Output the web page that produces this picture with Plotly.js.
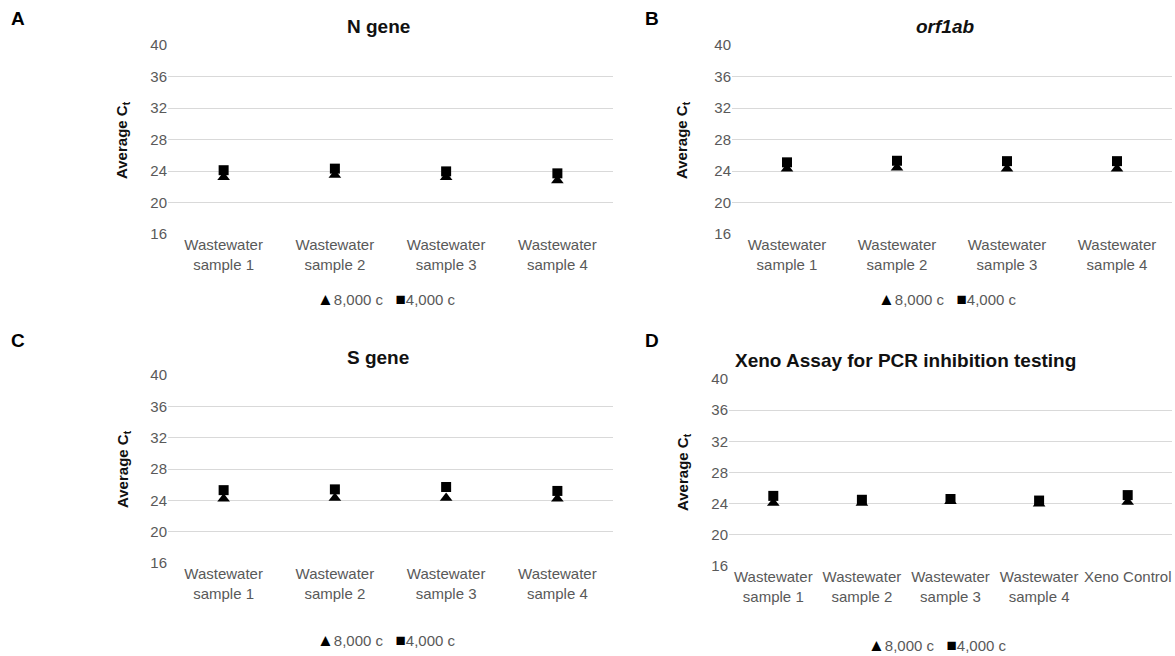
<!DOCTYPE html>
<html>
<head>
<meta charset="utf-8">
<script src="https://cdn.plot.ly/plotly-3.0.1.min.js"></script>
<style>html,body{margin:0;padding:0;background:#fff;}#chart{width:1175px;height:656px;}</style>
</head>
<body>
<div id="chart"></div>
<script>
// Data
const samples4 = ["Wastewater<br>sample 1", "Wastewater<br>sample 2", "Wastewater<br>sample 3", "Wastewater<br>sample 4"];
const samples5 = ["Wastewater<br>sample 1", "Wastewater<br>sample 2", "Wastewater<br>sample 3", "Wastewater<br>sample 4", "Xeno Control"];
const seriesNames = ["8,000 c", "4,000 c"];
const seriesGlyphs = ["▲", "■"];

const nGene8000 = [23.2, 23.5, 23.2, 22.8];
const nGene4000 = [24.1, 24.3, 23.95, 23.7];
const orf8000 = [24.3, 24.4, 24.3, 24.3];
const orf4000 = [25.1, 25.3, 25.25, 25.25];
const sGene8000 = [24.2, 24.3, 24.3, 24.2];
const sGene4000 = [25.3, 25.4, 25.7, 25.2];
const xeno8000 = [24.1, 24.1, 24.3, 24.0, 24.2];
const xeno4000 = [25.0, 24.5, 24.6, 24.4, 25.1];

const panelTitles = ["N gene", "<i>orf1ab</i>", "S gene", "Xeno Assay for PCR inhibition testing"];
const panelLetters = ["A", "B", "C", "D"];
const yTitle = "Average C<sub>t</sub>";
const yTicks = [16, 20, 24, 28, 32, 36, 40];

const W = 1175, H = 656;
const px = v => v / W, py = v => 1 - v / H;
const FONT = "Liberation Sans, Arial, sans-serif";

const panels = [
  {cats: samples4, a: nGene8000, b: nGene4000, x: [168, 613], y: [45, 234]},
  {cats: samples4, a: orf8000, b: orf4000, x: [732, 1172], y: [45, 234]},
  {cats: samples4, a: sGene8000, b: sGene4000, x: [168, 613], y: [375, 563]},
  {cats: samples5, a: xeno8000, b: xeno4000, x: [729, 1172], y: [379, 566]}
];

const traces = [];
const layout = {
  width: W, height: H,
  margin: {l: 0, r: 0, t: 0, b: 0},
  paper_bgcolor: "#fff", plot_bgcolor: "#fff",
  font: {family: FONT, color: "#595959", size: 14},
  showlegend: false,
  annotations: []
};

const fontTick = {family: FONT, size: 15, color: "#595959"};
const legendPos = [[386, 299], [947, 299], [386, 640], [937, 645]];
const titlePos = [[378, 27], [945, 27], [378, 357], [905, 360]];
const letterPos = [[18, 18], [652, 18], [18, 340], [652, 340]];
const ytitlePos = [[123, 140], [683, 140], [123, 469], [683, 472]];

panels.forEach((p, i) => {
  const n = i === 0 ? "" : String(i + 1);
  const xa = "x" + n, ya = "y" + n;
  traces.push({
    type: "scatter", mode: "markers", x: p.cats, y: p.a, name: seriesNames[0],
    xaxis: xa, yaxis: ya,
    marker: {symbol: "triangle-up", size: 11, color: "#000"}
  });
  traces.push({
    type: "scatter", mode: "markers", x: p.cats, y: p.b, name: seriesNames[1],
    xaxis: xa, yaxis: ya,
    marker: {symbol: "square", size: 10, color: "#000"}
  });
  layout["xaxis" + n] = {
    domain: [px(p.x[0]), px(p.x[1])], anchor: ya, type: "category",
    range: [-0.5, p.cats.length - 0.5], showgrid: false, showline: false, zeroline: false,
    tickfont: {family: FONT, size: 15, color: "#595959"},
    ticks: "", fixedrange: true
  };
  layout["yaxis" + n] = {
    domain: [py(p.y[1]), py(p.y[0])], anchor: xa, range: [16, 40],
    tickvals: yTicks, showgrid: true, gridcolor: "#d9d9d9", gridwidth: 1,
    zeroline: false, showline: false, tickfont: fontTick, ticks: "", fixedrange: true
  };
  layout.annotations.push({
    text: '<span style="color:#000;font-size:17px">' + seriesGlyphs[0] + '</span>' + seriesNames[0] +
          '&nbsp;&nbsp;&nbsp;<span style="color:#000;font-size:17px">' + seriesGlyphs[1] + '</span>' + seriesNames[1],
    xref: "paper", yref: "paper",
    x: px(legendPos[i][0]), y: py(legendPos[i][1]), xanchor: "center", yanchor: "middle",
    showarrow: false, font: {family: FONT, size: 15, color: "#595959"}
  });
  layout.annotations.push({
    text: "<b>" + panelTitles[i] + "</b>", xref: "paper", yref: "paper",
    x: px(titlePos[i][0]), y: py(titlePos[i][1]), xanchor: "center", yanchor: "middle",
    showarrow: false, font: {family: FONT, size: 19, color: "#111"}
  });
  layout.annotations.push({
    text: "<b>" + panelLetters[i] + "</b>", xref: "paper", yref: "paper",
    x: px(letterPos[i][0]), y: py(letterPos[i][1]), xanchor: "center", yanchor: "middle",
    showarrow: false, font: {family: FONT, size: 19, color: "#000"}
  });
  layout.annotations.push({
    text: "<b>" + yTitle + "</b>", xref: "paper", yref: "paper", textangle: -90,
    x: px(ytitlePos[i][0]), y: py(ytitlePos[i][1]), xanchor: "center", yanchor: "middle",
    showarrow: false, font: {family: FONT, size: 15, color: "#111"}
  });
});

Plotly.newPlot("chart", traces, layout, {displayModeBar: false, staticPlot: true});
</script>
</body>
</html>
